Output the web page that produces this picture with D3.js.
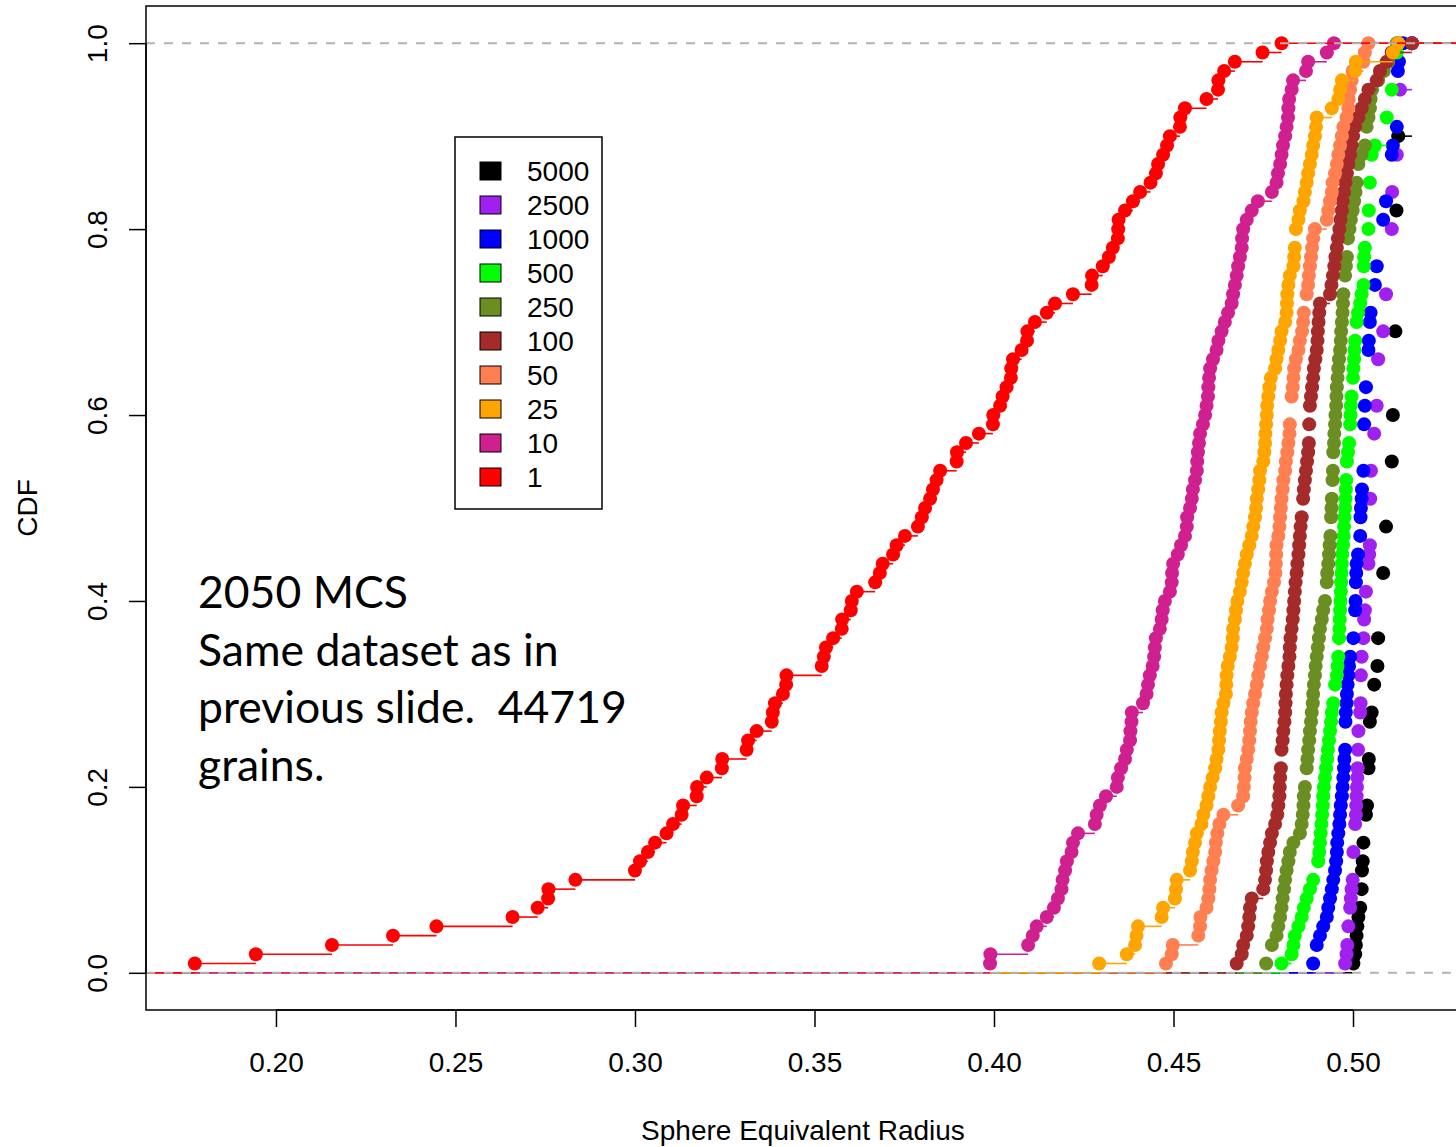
<!DOCTYPE html>
<html>
<head>
<meta charset="utf-8">
<script src="https://cdn.jsdelivr.net/npm/d3@7"></script>
<style>
    body { margin: 0; background: #ffffff; }
    svg { display: block; }
</style>
</head>
<body>
<svg id="svg"></svg>
<script>
// sphere equivalent radius of the grains, one sorted sample per MCS step (ties repeat)
let r5000 = [
    0.5001, 0.5006, 0.5008, 0.5010, 0.5012, 0.5015, 0.5020, 0.5024, 0.5024, 0.5025,
    0.5025, 0.5027, 0.5029, 0.5029, 0.5036, 0.5036, 0.5036, 0.5039, 0.5043, 0.5043,
    0.5043, 0.5043, 0.5044, 0.5047, 0.5047, 0.5047, 0.5047, 0.5052, 0.5059, 0.5059,
    0.5059, 0.5068, 0.5068, 0.5070, 0.5070, 0.5070, 0.5084, 0.5084, 0.5084, 0.5084,
    0.5084, 0.5084, 0.5084, 0.5092, 0.5092, 0.5092, 0.5092, 0.5092, 0.5108, 0.5108,
    0.5108, 0.5108, 0.5108, 0.5108, 0.5108, 0.5111, 0.5111, 0.5111, 0.5111, 0.5111,
    0.5118, 0.5118, 0.5118, 0.5118, 0.5118, 0.5118, 0.5118, 0.5118, 0.5118, 0.5121,
    0.5121, 0.5121, 0.5121, 0.5121, 0.5121, 0.5121, 0.5121, 0.5121, 0.5121, 0.5121,
    0.5121, 0.5121, 0.5126, 0.5126, 0.5126, 0.5126, 0.5126, 0.5126, 0.5126, 0.5126,
    0.5164, 0.5164, 0.5164, 0.5164, 0.5164, 0.5164, 0.5164, 0.5164, 0.5164, 0.5164
];
let r2500 = [
    0.4978, 0.4982, 0.4984, 0.4987, 0.4987, 0.4992, 0.4992, 0.4994, 0.4996, 0.4999,
    0.5001, 0.5001, 0.5001, 0.5006, 0.5006, 0.5006, 0.5008, 0.5009, 0.5010, 0.5011,
    0.5012, 0.5013, 0.5014, 0.5014, 0.5015, 0.5015, 0.5020, 0.5020, 0.5021, 0.5022,
    0.5022, 0.5022, 0.5024, 0.5024, 0.5029, 0.5029, 0.5031, 0.5031, 0.5033, 0.5036,
    0.5036, 0.5043, 0.5043, 0.5043, 0.5045, 0.5047, 0.5048, 0.5048, 0.5048, 0.5048,
    0.5048, 0.5050, 0.5050, 0.5050, 0.5059, 0.5059, 0.5059, 0.5059, 0.5066, 0.5066,
    0.5066, 0.5070, 0.5070, 0.5070, 0.5070, 0.5070, 0.5084, 0.5084, 0.5084, 0.5092,
    0.5092, 0.5092, 0.5092, 0.5108, 0.5108, 0.5108, 0.5108, 0.5108, 0.5108, 0.5108,
    0.5109, 0.5109, 0.5109, 0.5109, 0.5122, 0.5122, 0.5122, 0.5122, 0.5131, 0.5131,
    0.5131, 0.5131, 0.5131, 0.5131, 0.5131, 0.5164, 0.5164, 0.5164, 0.5164, 0.5164
];
let r1000 = [
    0.4889, 0.4899, 0.4899, 0.4908, 0.4917, 0.4927, 0.4931, 0.4936, 0.4941, 0.4945,
    0.4950, 0.4953, 0.4955, 0.4956, 0.4959, 0.4962, 0.4964, 0.4966, 0.4969, 0.4971,
    0.4973, 0.4975, 0.4976, 0.4978, 0.4979, 0.4979, 0.4979, 0.4980, 0.4982, 0.4983,
    0.4985, 0.4987, 0.4989, 0.4992, 0.5001, 0.5001, 0.5006, 0.5006, 0.5006, 0.5007,
    0.5008, 0.5008, 0.5009, 0.5010, 0.5014, 0.5020, 0.5020, 0.5021, 0.5021, 0.5022,
    0.5024, 0.5025, 0.5029, 0.5029, 0.5031, 0.5031, 0.5031, 0.5031, 0.5031, 0.5033,
    0.5033, 0.5036, 0.5036, 0.5043, 0.5043, 0.5043, 0.5043, 0.5044, 0.5047, 0.5047,
    0.5049, 0.5061, 0.5061, 0.5061, 0.5066, 0.5066, 0.5084, 0.5084, 0.5084, 0.5084,
    0.5084, 0.5092, 0.5092, 0.5108, 0.5108, 0.5108, 0.5108, 0.5108, 0.5111, 0.5122,
    0.5122, 0.5125, 0.5125, 0.5125, 0.5125, 0.5125, 0.5125, 0.5128, 0.5139, 0.5139
];
let r500 = [
    0.4801, 0.4829, 0.4834, 0.4838, 0.4848, 0.4857, 0.4863, 0.4871, 0.4880, 0.4889,
    0.4903, 0.4903, 0.4906, 0.4908, 0.4910, 0.4912, 0.4914, 0.4916, 0.4917, 0.4919,
    0.4922, 0.4925, 0.4928, 0.4930, 0.4933, 0.4936, 0.4939, 0.4941, 0.4945, 0.4950,
    0.4950, 0.4955, 0.4957, 0.4959, 0.4961, 0.4961, 0.4962, 0.4963, 0.4964, 0.4965,
    0.4966, 0.4967, 0.4968, 0.4969, 0.4970, 0.4972, 0.4974, 0.4975, 0.4976, 0.4978,
    0.4979, 0.4980, 0.4981, 0.4983, 0.4983, 0.4986, 0.4989, 0.4992, 0.4992, 0.4993,
    0.4994, 0.4996, 0.5000, 0.5000, 0.5001, 0.5003, 0.5004, 0.5006, 0.5010, 0.5010,
    0.5014, 0.5020, 0.5024, 0.5029, 0.5030, 0.5030, 0.5031, 0.5033, 0.5043, 0.5043,
    0.5044, 0.5044, 0.5047, 0.5047, 0.5047, 0.5052, 0.5052, 0.5052, 0.5061, 0.5094,
    0.5094, 0.5094, 0.5108, 0.5108, 0.5108, 0.5122, 0.5122, 0.5122, 0.5122, 0.5125
];
let r250 = [
    0.4758, 0.4774, 0.4774, 0.4787, 0.4792, 0.4797, 0.4801, 0.4804, 0.4808, 0.4811,
    0.4815, 0.4820, 0.4824, 0.4834, 0.4852, 0.4857, 0.4860, 0.4862, 0.4863, 0.4866,
    0.4871, 0.4871, 0.4873, 0.4875, 0.4878, 0.4880, 0.4883, 0.4885, 0.4888, 0.4889,
    0.4891, 0.4894, 0.4896, 0.4899, 0.4902, 0.4905, 0.4908, 0.4913, 0.4917, 0.4922,
    0.4927, 0.4927, 0.4928, 0.4931, 0.4933, 0.4935, 0.4937, 0.4939, 0.4939, 0.4940,
    0.4941, 0.4943, 0.4943, 0.4944, 0.4945, 0.4945, 0.4947, 0.4948, 0.4950, 0.4951,
    0.4953, 0.4954, 0.4955, 0.4957, 0.4959, 0.4961, 0.4964, 0.4966, 0.4967, 0.4969,
    0.4971, 0.4972, 0.4973, 0.4978, 0.4978, 0.4980, 0.4983, 0.4986, 0.4986, 0.4990,
    0.4994, 0.4999, 0.5003, 0.5007, 0.5010, 0.5015, 0.5015, 0.5024, 0.5033, 0.5038,
    0.5038, 0.5043, 0.5047, 0.5049, 0.5053, 0.5070, 0.5086, 0.5098, 0.5108, 0.5122
];
let r100 = [
    0.4676, 0.4690, 0.4694, 0.4704, 0.4708, 0.4711, 0.4713, 0.4718, 0.4750, 0.4755,
    0.4758, 0.4760, 0.4764, 0.4769, 0.4774, 0.4783, 0.4789, 0.4792, 0.4795, 0.4796,
    0.4797, 0.4799, 0.4801, 0.4801, 0.4804, 0.4806, 0.4809, 0.4811, 0.4812, 0.4813,
    0.4815, 0.4817, 0.4820, 0.4823, 0.4824, 0.4826, 0.4829, 0.4832, 0.4834, 0.4836,
    0.4838, 0.4840, 0.4843, 0.4845, 0.4848, 0.4850, 0.4852, 0.4854, 0.4857, 0.4861,
    0.4861, 0.4863, 0.4866, 0.4869, 0.4872, 0.4875, 0.4877, 0.4878, 0.4878, 0.4880,
    0.4880, 0.4883, 0.4886, 0.4889, 0.4891, 0.4895, 0.4899, 0.4901, 0.4902, 0.4904,
    0.4906, 0.4908, 0.4936, 0.4940, 0.4944, 0.4948, 0.4951, 0.4955, 0.4958, 0.4962,
    0.4965, 0.4969, 0.4971, 0.4975, 0.4979, 0.4983, 0.4987, 0.4992, 0.4996, 0.5000,
    0.5006, 0.5015, 0.5024, 0.5033, 0.5043, 0.5066, 0.5075, 0.5094, 0.5108, 0.5164
];
let r50 = [
    0.4479, 0.4495, 0.4498, 0.4569, 0.4574, 0.4575, 0.4592, 0.4597, 0.4600, 0.4602,
    0.4606, 0.4611, 0.4616, 0.4618, 0.4622, 0.4628, 0.4639, 0.4680, 0.4694, 0.4696,
    0.4698, 0.4699, 0.4704, 0.4708, 0.4711, 0.4713, 0.4715, 0.4718, 0.4722, 0.4727,
    0.4732, 0.4736, 0.4741, 0.4746, 0.4750, 0.4755, 0.4760, 0.4762, 0.4766, 0.4769,
    0.4774, 0.4780, 0.4784, 0.4785, 0.4786, 0.4787, 0.4792, 0.4795, 0.4797, 0.4799,
    0.4801, 0.4804, 0.4806, 0.4811, 0.4813, 0.4817, 0.4820, 0.4823, 0.4824, 0.4829,
    0.4829, 0.4829, 0.4832, 0.4834, 0.4836, 0.4841, 0.4848, 0.4852, 0.4858, 0.4861,
    0.4863, 0.4871, 0.4871, 0.4875, 0.4877, 0.4880, 0.4883, 0.4886, 0.4889, 0.4894,
    0.4927, 0.4931, 0.4936, 0.4941, 0.4943, 0.4950, 0.4955, 0.4959, 0.4964, 0.4969,
    0.4973, 0.4982, 0.4987, 0.4988, 0.4992, 0.4996, 0.4999, 0.5029, 0.5033, 0.5043
];
let r25 = [
    0.4293, 0.4370, 0.4393, 0.4397, 0.4401, 0.4467, 0.4471, 0.4504, 0.4507, 0.4509,
    0.4546, 0.4551, 0.4554, 0.4560, 0.4565, 0.4578, 0.4583, 0.4592, 0.4597, 0.4602,
    0.4609, 0.4616, 0.4620, 0.4625, 0.4627, 0.4629, 0.4632, 0.4634, 0.4639, 0.4646,
    0.4647, 0.4648, 0.4651, 0.4657, 0.4662, 0.4665, 0.4666, 0.4671, 0.4674, 0.4678,
    0.4685, 0.4690, 0.4694, 0.4699, 0.4704, 0.4711, 0.4718, 0.4722, 0.4727, 0.4730,
    0.4732, 0.4736, 0.4739, 0.4741, 0.4750, 0.4753, 0.4755, 0.4756, 0.4758, 0.4760,
    0.4761, 0.4764, 0.4767, 0.4771, 0.4783, 0.4787, 0.4792, 0.4797, 0.4801, 0.4811,
    0.4815, 0.4816, 0.4817, 0.4820, 0.4824, 0.4834, 0.4836, 0.4838, 0.4841, 0.4841,
    0.4848, 0.4852, 0.4862, 0.4866, 0.4871, 0.4875, 0.4880, 0.4885, 0.4889, 0.4894,
    0.4897, 0.4899, 0.4941, 0.4959, 0.4964, 0.4969, 0.5006, 0.5008, 0.5111, 0.5126
];
let r10 = [
    0.3989, 0.3990, 0.4095, 0.4108, 0.4119, 0.4147, 0.4167, 0.4178, 0.4188, 0.4191,
    0.4198, 0.4203, 0.4216, 0.4220, 0.4234, 0.4281, 0.4286, 0.4295, 0.4312, 0.4342,
    0.4345, 0.4354, 0.4365, 0.4370, 0.4379, 0.4380, 0.4383, 0.4384, 0.4415, 0.4425,
    0.4429, 0.4434, 0.4442, 0.4446, 0.4448, 0.4451, 0.4462, 0.4467, 0.4470, 0.4476,
    0.4490, 0.4495, 0.4496, 0.4499, 0.4512, 0.4521, 0.4532, 0.4537, 0.4538, 0.4546,
    0.4551, 0.4554, 0.4560, 0.4565, 0.4566, 0.4568, 0.4571, 0.4574, 0.4582, 0.4588,
    0.4592, 0.4596, 0.4597, 0.4599, 0.4602, 0.4610, 0.4620, 0.4625, 0.4634, 0.4643,
    0.4652, 0.4662, 0.4666, 0.4671, 0.4676, 0.4680, 0.4685, 0.4690, 0.4691, 0.4694,
    0.4704, 0.4718, 0.4735, 0.4774, 0.4787, 0.4791, 0.4797, 0.4801, 0.4805, 0.4811,
    0.4815, 0.4819, 0.4820, 0.4822, 0.4829, 0.4833, 0.4869, 0.4875, 0.4927, 0.4947
];
let r1 = [
    0.1774, 0.1944, 0.2156, 0.2326, 0.2447, 0.2659, 0.2729, 0.2758, 0.2759, 0.2834,
    0.3000, 0.3014, 0.3036, 0.3056, 0.3088, 0.3106, 0.3130, 0.3134, 0.3172, 0.3173,
    0.3200, 0.3242, 0.3243, 0.3311, 0.3315, 0.3339, 0.3381, 0.3384, 0.3390, 0.3412,
    0.3421, 0.3422, 0.3520, 0.3526, 0.3532, 0.3552, 0.3576, 0.3577, 0.3601, 0.3604,
    0.3618, 0.3669, 0.3682, 0.3690, 0.3719, 0.3729, 0.3752, 0.3788, 0.3799, 0.3808,
    0.3822, 0.3830, 0.3840, 0.3850, 0.3896, 0.3897, 0.3922, 0.3958, 0.3997, 0.3998,
    0.4017, 0.4024, 0.4035, 0.4047, 0.4048, 0.4053, 0.4077, 0.4092, 0.4093, 0.4114,
    0.4147, 0.4170, 0.4220, 0.4272, 0.4273, 0.4303, 0.4320, 0.4331, 0.4345, 0.4346,
    0.4347, 0.4365, 0.4387, 0.4407, 0.4436, 0.4451, 0.4457, 0.4471, 0.4482, 0.4490,
    0.4518, 0.4519, 0.4532, 0.4592, 0.4624, 0.4625, 0.4641, 0.4671, 0.4748, 0.4801
];

// drawn in this order, same order as the legend
let seriesNames = ["5000", "2500", "1000", "500", "250", "100", "50", "25", "10", "1"];
let seriesColors = ["#000000", "#a020f0", "#0000ff", "#00ff00", "#6b8e23",
                    "#a52a2a", "#ff7f50", "#ffa500", "#d02090", "#ff0000"];
let seriesSamples = [r5000, r2500, r1000, r500, r250, r100, r50, r25, r10, r1];

let xTicks = [0.20, 0.25, 0.30, 0.35, 0.40, 0.45, 0.50];
let yTicks = [0.0, 0.2, 0.4, 0.6, 0.8, 1.0];
let noteLines = ["2050 MCS", "Same dataset as in", "previous slide.  44719", "grains."];

const width = 1456;
const height = 1147;
const plotLeft = 146;
const plotRight = 1460;
const plotTop = 6;
const plotBottom = 1010;
const labelFont = "'Liberation Sans', Arial, Helvetica, sans-serif";
const labelSize = "28px";

let svg = d3.select("#svg");
svg.attr("width", width).attr("height", height);

// R pads the data range by 4% on each side
let xScale = d3.scaleLinear().domain([0.1638, 0.5298]).range([plotLeft, plotRight]);
let yScale = d3.scaleLinear().domain([-0.04, 1.04]).range([plotBottom, plotTop]);

svg.append("rect")
    .attr("width", width)
    .attr("height", height)
    .attr("fill", "#ffffff");

svg.append("clipPath")
    .attr("id", "plot-clip")
    .append("rect")
    .attr("x", plotLeft)
    .attr("y", plotTop)
    .attr("width", plotRight - plotLeft)
    .attr("height", plotBottom - plotTop);

let plot = svg.append("g").attr("clip-path", "url(#plot-clip)");

// empirical CDF: one point per distinct value, height = share of samples <= value
function ecdfPoints(sample) {
    let sorted = sample.slice().sort(d3.ascending);
    let n = sorted.length;
    let pts = [];
    for (let i = 0; i < n; i++) {
        if (i === n - 1 || sorted[i + 1] !== sorted[i]) {
            pts.push({ x: sorted[i], y: (i + 1) / n });
        }
    }
    return pts;
}

function drawSeries(sample, color) {
    let pts = ecdfPoints(sample);
    let xMin = xScale.domain()[0] - 1;
    let xMax = xScale.domain()[1] + 1;

    // horizontal steps, including the flat parts at 0 and 1
    let steps = [{ x0: xMin, x1: pts[0].x, y: 0 }];
    for (let i = 0; i < pts.length; i++) {
        let next = i < pts.length - 1 ? pts[i + 1].x : xMax;
        steps.push({ x0: pts[i].x, x1: next, y: pts[i].y });
    }

    let g = plot.append("g");

    g.selectAll("line")
        .data(steps)
        .enter()
        .append("line")
        .attr("x1", d => xScale(d.x0))
        .attr("x2", d => xScale(d.x1))
        .attr("y1", d => yScale(d.y))
        .attr("y2", d => yScale(d.y))
        .attr("stroke", color)
        .attr("stroke-width", 1.6);

    g.selectAll("circle")
        .data(pts)
        .enter()
        .append("circle")
        .attr("cx", d => xScale(d.x))
        .attr("cy", d => yScale(d.y))
        .attr("r", 7)
        .attr("fill", color);
}

for (let i = 0; i < seriesSamples.length; i++) {
    drawSeries(seriesSamples[i], seriesColors[i]);
}

// grey dashed reference lines at 0 and 1
plot.selectAll(".ref-line")
    .data([0, 1])
    .enter()
    .append("line")
    .attr("class", "ref-line")
    .attr("x1", plotLeft)
    .attr("x2", plotRight)
    .attr("y1", d => yScale(d))
    .attr("y2", d => yScale(d))
    .attr("stroke", "#b3b3b3")
    .attr("stroke-width", 2)
    .attr("stroke-dasharray", "9,9");

// plot frame
svg.append("rect")
    .attr("x", plotLeft)
    .attr("y", plotTop)
    .attr("width", plotRight - plotLeft)
    .attr("height", plotBottom - plotTop)
    .attr("fill", "none")
    .attr("stroke", "#000000")
    .attr("stroke-width", 1.5);

// x axis
let xAxis = svg.append("g")
    .attr("transform", `translate(0,${plotBottom})`)
    .call(d3.axisBottom(xScale).tickValues(xTicks).tickSize(17).tickFormat(d3.format(".2f")));
xAxis.select(".domain")
    .attr("d", `M${xScale(xTicks[0])},0H${xScale(xTicks[xTicks.length - 1])}`)
    .attr("stroke-width", 1.5);
xAxis.selectAll(".tick line").attr("stroke-width", 1.5);
xAxis.selectAll(".tick text")
    .attr("y", 62)
    .attr("dy", null)
    .style("font-family", labelFont)
    .style("font-size", labelSize)
    .attr("fill", "#000000");

// y axis with labels turned on their side
let yAxis = svg.append("g")
    .attr("transform", `translate(${plotLeft},0)`)
    .call(d3.axisLeft(yScale).tickValues(yTicks).tickSize(17).tickFormat(d3.format(".1f")));
yAxis.select(".domain")
    .attr("d", `M0,${yScale(yTicks[0])}V${yScale(yTicks[yTicks.length - 1])}`)
    .attr("stroke-width", 1.5);
yAxis.selectAll(".tick line").attr("stroke-width", 1.5);
yAxis.selectAll(".tick text")
    .attr("x", 0)
    .attr("y", -39)
    .attr("dy", null)
    .attr("transform", "rotate(-90)")
    .attr("text-anchor", "middle")
    .style("font-family", labelFont)
    .style("font-size", labelSize)
    .attr("fill", "#000000");

// axis titles
svg.append("text")
    .attr("x", (plotLeft + plotRight) / 2)
    .attr("y", 1140)
    .attr("text-anchor", "middle")
    .style("font-family", labelFont)
    .style("font-size", labelSize)
    .text("Sphere Equivalent Radius");

svg.append("text")
    .attr("transform", `translate(37,${(plotTop + plotBottom) / 2}) rotate(-90)`)
    .attr("text-anchor", "middle")
    .style("font-family", labelFont)
    .style("font-size", labelSize)
    .text("CDF");

// legend
let legend = svg.append("g").attr("transform", "translate(455,137)");
legend.append("rect")
    .attr("width", 147)
    .attr("height", 372)
    .attr("fill", "#ffffff")
    .attr("stroke", "#000000")
    .attr("stroke-width", 1.5);

let entries = legend.selectAll(".entry")
    .data(seriesNames)
    .enter()
    .append("g")
    .attr("class", "entry")
    .attr("transform", (d, i) => `translate(0,${34 + i * 34})`);

entries.append("rect")
    .attr("x", 25)
    .attr("y", -9)
    .attr("width", 21)
    .attr("height", 18)
    .attr("fill", (d, i) => seriesColors[i])
    .attr("stroke", "#000000")
    .attr("stroke-width", 1);

entries.append("text")
    .attr("x", 72)
    .attr("y", 10)
    .style("font-family", labelFont)
    .style("font-size", labelSize)
    .text(d => d);

// slide note
svg.append("g")
    .selectAll("text")
    .data(noteLines)
    .enter()
    .append("text")
    .attr("x", 198)
    .attr("y", (d, i) => 608 + i * 57.5)
    .style("font-family", "Lato, 'Open Sans', sans-serif")
    .style("font-size", "44.5px")
    .style("white-space", "pre")
    .attr("fill", "#000000")
    .text(d => d);
</script>
</body>
</html>
